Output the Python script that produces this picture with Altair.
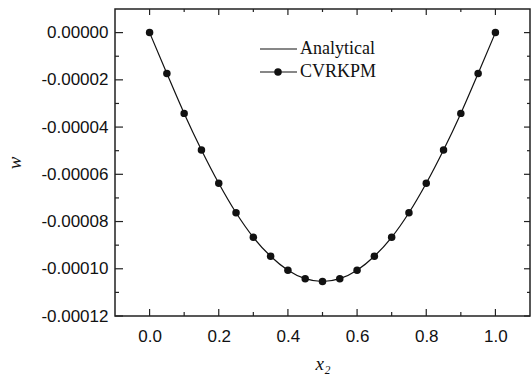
import altair as alt
import pandas as pd

# data
x_vals = [0.0, 0.05, 0.1, 0.15, 0.2, 0.25, 0.3, 0.35, 0.4, 0.45, 0.5,
          0.55, 0.6, 0.65, 0.7, 0.75, 0.8, 0.85, 0.9, 0.95, 1.0]
w_vals = [0.0, -1.73e-5, -3.42e-5, -4.97e-5, -6.38e-5, -7.63e-5, -8.67e-5,
          -9.47e-5, -1.006e-4, -1.042e-4, -1.054e-4, -1.042e-4, -1.006e-4,
          -9.47e-5, -8.67e-5, -7.63e-5, -6.38e-5, -4.97e-5, -3.42e-5,
          -1.73e-5, 0.0]
series_names = ["Analytical", "CVRKPM"]
x_major = [0.0, 0.2, 0.4, 0.6, 0.8, 1.0]
x_minor = [0.1, 0.3, 0.5, 0.7, 0.9]
y_major = [0.0, -0.00002, -0.00004, -0.00006, -0.00008, -0.00010, -0.00012]
y_minor = [-0.00001, -0.00003, -0.00005, -0.00007, -0.00009, -0.00011]

W, H = 415, 307
xscale = alt.Scale(domain=[-0.1, 1.1], nice=False, zero=False)
yscale = alt.Scale(domain=[-0.00012, 0.00001], nice=False, zero=False)

df = pd.DataFrame({"x": x_vals, "w": w_vals})

tick_font = "Liberation Sans"
serif = "Liberation Serif"

xaxis = alt.Axis(values=x_major, format=".1f", ticks=False, domain=False, grid=False,
                 labelFont=tick_font, labelFontSize=17, labelColor="#111",
                 labelPadding=12, title="x₂", titleFont=serif, titleFontStyle="italic",
                 titleFontWeight="normal", titleFontSize=19, titleColor="#111",
                 titlePadding=10)
yaxis = alt.Axis(values=y_major, format=".5f", ticks=False, domain=False, grid=False,
                 labelExpr="replace(datum.label, '−', '-')",
                 labelFont=tick_font, labelFontSize=17, labelColor="#111",
                 labelPadding=7, title="w", titleFont=serif, titleFontStyle="italic",
                 titleFontWeight="normal", titleFontSize=19, titleColor="#111",
                 titlePadding=16)

base = alt.Chart(df)
analytical = base.mark_line(color="#111", strokeWidth=1.2, interpolate="monotone").encode(
    x=alt.X("x:Q", scale=xscale, axis=xaxis),
    y=alt.Y("w:Q", scale=yscale, axis=yaxis),
)
points = base.mark_circle(color="#111", size=56, opacity=1).encode(
    x=alt.X("x:Q", scale=xscale, axis=xaxis),
    y=alt.Y("w:Q", scale=yscale, axis=yaxis),
)

def vrules(vals, y1, y2):
    return alt.Chart(pd.DataFrame({"v": vals})).mark_rule(color="#222", strokeWidth=1.2).encode(
        x=alt.X("v:Q", scale=xscale, axis=xaxis), y=alt.value(y1), y2=alt.value(y2))

def hrules(vals, x1, x2):
    return alt.Chart(pd.DataFrame({"v": vals})).mark_rule(color="#222", strokeWidth=1.2).encode(
        y=alt.Y("v:Q", scale=yscale, axis=yaxis), x=alt.value(x1), x2=alt.value(x2))

ticks = [
    vrules(x_major, H, H - 7), vrules(x_minor, H, H - 4),
    vrules(x_major, 0, 6), vrules(x_minor, 0, 3),
    hrules(y_major, 0, 8), hrules(y_minor, 0, 4),
    hrules(y_major, W, W - 6), hrules(y_minor, W, W - 3),
]

# manual legend
leg_df = pd.DataFrame({"label": series_names})
leg_line1 = alt.Chart(leg_df).transform_filter(alt.datum.label == series_names[0]).mark_rule(
    color="#111", strokeWidth=1.2).encode(x=alt.value(145), x2=alt.value(182), y=alt.value(40))
leg_line2 = alt.Chart(leg_df).transform_filter(alt.datum.label == series_names[1]).mark_rule(
    color="#111", strokeWidth=1.2).encode(x=alt.value(145), x2=alt.value(182), y=alt.value(63))
leg_dot = alt.Chart(leg_df).transform_filter(alt.datum.label == series_names[1]).mark_circle(
    color="#111", size=56, opacity=1).encode(x=alt.value(163), y=alt.value(63))
leg_text1 = alt.Chart(leg_df).transform_filter(alt.datum.label == series_names[0]).mark_text(
    font=serif, fontSize=18, align="left", baseline="middle", color="#111").encode(
    x=alt.value(185), y=alt.value(40), text="label:N")
leg_text2 = alt.Chart(leg_df).transform_filter(alt.datum.label == series_names[1]).mark_text(
    font=serif, fontSize=18, align="left", baseline="middle", color="#111").encode(
    x=alt.value(185), y=alt.value(63), text="label:N")

chart = alt.layer(analytical, points, *ticks, leg_line1, leg_line2, leg_dot, leg_text1, leg_text2).properties(
    width=W, height=H,
    autosize=alt.AutoSizeParams(type="none"),
    padding={"left": 115, "top": 9, "right": 1, "bottom": 63},
    background="white",
).configure_view(stroke="#222", strokeWidth=1.5)

chart.save("out.html", embed_options={"renderer": "svg", "actions": False})
